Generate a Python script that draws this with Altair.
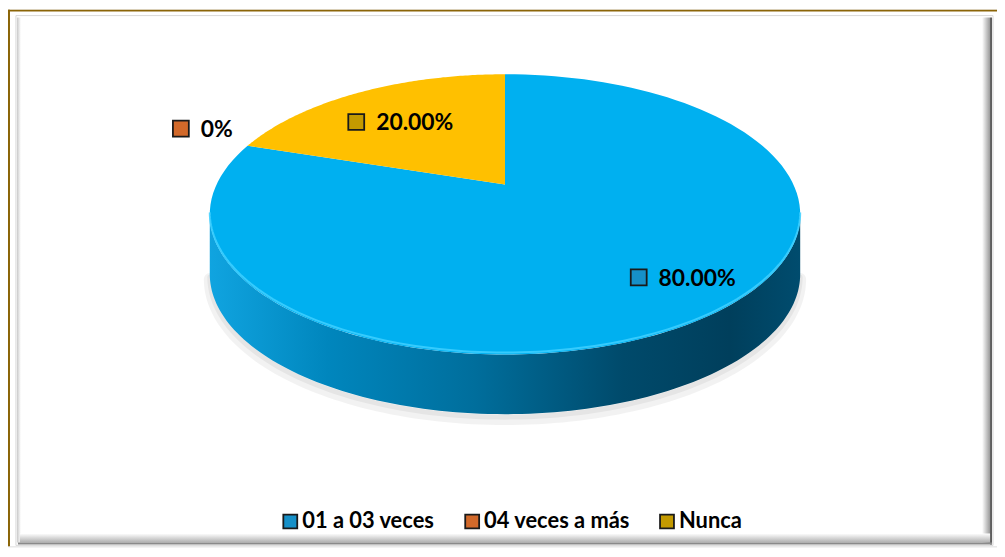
import math
import altair as alt
import pandas as pd

# ---------------- data ----------------
CATEGORIES = ["01 a 03 veces", "04 veces a más", "Nunca"]
VALUES = [80.0, 0.0, 20.0]
COLORS = ["#00B0F0", "#ED7D31", "#FFC000"]          # slice faces
KEY_COLORS = ["#1690C8", "#D2692A", "#C49A00"]      # legend keys / label keys

# ---------------- layout / style ----------------
W, H = 995, 540          # plot area (px)
X0, Y0 = 8, 8            # page offset of the plot area
CX, CY = 508, 184        # pie apex (page px)
A, B, K = 290.2, 134.6, 0.2128   # perspective ellipse parameters
DEPTH = 60
N = 120
LABEL_RX = [0.906, 1.109, 0.760]
LABEL_RY = [0.936, 1.148, 0.500]
FONT = "Lato"

df = pd.DataFrame({"cat": CATEGORIES, "val": VALUES, "idx": list(range(len(CATEGORIES)))})

xs = alt.Scale(domain=[X0, X0 + W], nice=False, zero=False)
ys = alt.Scale(domain=[Y0, Y0 + H], nice=False, zero=False, reverse=True)

LEGEND = alt.Legend(
    title=None,
    orient="none",
    legendX=273,
    legendY=504,
    direction="horizontal",
    symbolType="square",
    symbolSize=196,
    symbolStrokeColor="#1a1a1a",
    symbolStrokeWidth=1.8,
    symbolOpacity=1,
    labelFont=FONT,
    labelFontWeight="bold",
    labelFontSize=22,
    labelColor="#000000",
    labelOffset=1,
    columnPadding=26,
    labelLimit=400,
)
KEY = alt.Color("cat:N", scale=alt.Scale(domain=CATEGORIES, range=KEY_COLORS), sort=CATEGORIES, legend=LEGEND)


def px(phi):
    return f"{CX} + {A}*sin({phi})/(1 + {K}*cos({phi}))"


def py(phi):
    return f"{CY} - {B}*cos({phi})/(1 + {K}*cos({phi}))"


X = alt.X("x:Q", scale=xs, axis=None)
Y = alt.Y("y:Q", scale=ys, axis=None)

base = (
    alt.Chart(df)
    .transform_joinaggregate(total="sum(val)")
    .transform_window(cum="sum(val)", sort=[alt.SortField("idx")], frame=[None, 0])
    .transform_calculate(a0="2*PI*(datum.cum - datum.val)/datum.total")
    .transform_calculate(a1="2*PI*datum.cum/datum.total")
)

# ---- top face slices ----
top = (
    base.transform_calculate(facecolor=f"{COLORS}[datum.idx]")
    .transform_calculate(steps=f"sequence(0, {N + 2})")
    .transform_flatten(["steps"], as_=["s"])
    .transform_calculate(phi=f"datum.a0 + (datum.s - 1)*(datum.a1 - datum.a0)/{N}")
    .transform_calculate(x=f"datum.s == 0 ? {CX} : {px('datum.phi')}")
    .transform_calculate(y=f"datum.s == 0 ? {CY} : {py('datum.phi')}")
    .mark_line(filled=True)
    .encode(x=X, y=Y, order="s:Q", fill=alt.Fill("facecolor:N", scale=None), detail="cat:N")
)

# ---- visible side wall ----
LO = math.acos(-K)
HI = 2 * math.pi - LO
side_base = (
    base.transform_calculate(slo=f"max(datum.a0, {LO})")
    .transform_calculate(shi=f"min(datum.a1, {HI})")
    .transform_filter("datum.slo < datum.shi")
    .transform_calculate(steps=f"sequence(0, {2 * N + 2})")
    .transform_flatten(["steps"], as_=["s"])
    .transform_calculate(
        phi=f"datum.s <= {N} ? datum.slo + datum.s*(datum.shi - datum.slo)/{N} : datum.shi - (datum.s - {N + 1})*(datum.shi - datum.slo)/{N}"
    )
    .transform_calculate(off=f"datum.s <= {N} ? 0 : {DEPTH}")
    .transform_calculate(x=px("datum.phi"))
    .transform_calculate(y=f"{py('datum.phi')} + datum.off")
)

side_grad = alt.LinearGradient(
    gradient="linear",
    stops=[
        alt.GradientStop(color="#10A4E0", offset=0.0),
        alt.GradientStop(color="#0086BD", offset=0.2),
        alt.GradientStop(color="#006E9C", offset=0.45),
        alt.GradientStop(color="#004A6B", offset=0.7),
        alt.GradientStop(color="#003F5C", offset=0.88),
        alt.GradientStop(color="#004C6E", offset=1.0),
    ],
    x1=0, x2=1, y1=0, y2=0,
)

shadow = (
    side_base.transform_filter(f"datum.s > {N}")
    .transform_calculate(ys="datum.y + 5")
    .mark_line(stroke="#000000", strokeWidth=12, opacity=0.05, strokeCap="round")
    .encode(x=X, y=alt.Y("ys:Q", scale=ys, axis=None), order="s:Q", detail="cat:N")
)
shadow2 = (
    side_base.transform_filter(f"datum.s > {N}")
    .transform_calculate(ys="datum.y + 3")
    .mark_line(stroke="#000000", strokeWidth=5, opacity=0.05, strokeCap="round")
    .encode(x=X, y=alt.Y("ys:Q", scale=ys, axis=None), order="s:Q", detail="cat:N")
)

side = side_base.mark_line(filled=True, fill=side_grad, strokeWidth=0).encode(
    x=X, y=Y, order="s:Q", detail="cat:N"
)

rim = (
    side_base.transform_filter(f"datum.s <= {N}")
    .transform_calculate(yr="datum.y - 2")
    .mark_line(stroke="#3FD0FF", strokeWidth=2, opacity=0.85)
    .encode(x=X, y=alt.Y("yr:Q", scale=ys, axis=None), order="s:Q", detail="cat:N")
)

# ---- labels ----
lab = (
    base.transform_calculate(mid="(datum.a0 + datum.a1)/2")
    .transform_calculate(rx=f"{LABEL_RX}[datum.idx]")
    .transform_calculate(ry=f"{LABEL_RY}[datum.idx]")
    .transform_calculate(x=f"{CX} + {A}*sin(datum.mid)*datum.rx")
    .transform_calculate(y=f"{CY} - {B}*cos(datum.mid)*datum.ry")
    .transform_calculate(mx="datum.x - 20")
    .transform_calculate(my="datum.y - 8.5")
    .transform_calculate(txt="datum.val == 0 ? '0%' : format(datum.val, '.2f') + '%'")
)

texts = lab.mark_text(
    align="left", baseline="alphabetic", font=FONT, fontWeight="bold", fontSize=23, color="#000000"
).encode(x=X, y=Y, text="txt:N")

markers = lab.mark_square(size=256, stroke="#1a1a1a", strokeWidth=1.8, opacity=1, filled=True).encode(
    x=alt.X("mx:Q", scale=xs, axis=None),
    y=alt.Y("my:Q", scale=ys, axis=None),
    color=KEY,
)

# ---- frame decorations ----
one = alt.Chart(pd.DataFrame({"k": [0]}))
inner_box = one.mark_rect(fill="#ffffff", stroke="#d9d9d9", strokeWidth=1).encode(
    x=alt.value(8), x2=alt.value(991), y=alt.value(6), y2=alt.value(539)
)
right_shadow = one.mark_rect(
    fill=alt.LinearGradient(
        gradient="linear",
        stops=[alt.GradientStop(color="#ffffff", offset=0), alt.GradientStop(color="#9a9a9a", offset=1)],
        x1=0, x2=1, y1=0, y2=0,
    )
).encode(x=alt.value(980), x2=alt.value(988), y=alt.value(8), y2=alt.value(537))
right_dark = one.mark_rect(fill="#5e5e5e").encode(
    x=alt.value(988), x2=alt.value(990), y=alt.value(8), y2=alt.value(538)
)
bottom_shadow = one.mark_rect(
    fill=alt.LinearGradient(
        gradient="linear",
        stops=[alt.GradientStop(color="#ffffff", offset=0), alt.GradientStop(color="#b0b0b0", offset=1)],
        x1=0, x2=0, y1=0, y2=1,
    )
).encode(x=alt.value(12), x2=alt.value(988), y=alt.value(527), y2=alt.value(536))
bottom_dark = one.mark_rect(fill="#8a8a8a").encode(
    x=alt.value(10), x2=alt.value(990), y=alt.value(536), y2=alt.value(538)
)
left_shadow = one.mark_rect(
    fill=alt.LinearGradient(
        gradient="linear",
        stops=[alt.GradientStop(color="#c8c8c8", offset=0), alt.GradientStop(color="#ffffff", offset=1)],
        x1=0, x2=1, y1=0, y2=0,
    )
).encode(x=alt.value(9), x2=alt.value(13), y=alt.value(8), y2=alt.value(536))
brown_top = one.mark_rect(fill="#8B6508").encode(
    x=alt.value(0), x2=alt.value(W), y=alt.value(0), y2=alt.value(2)
)
brown_left = one.mark_rect(fill="#8B6508").encode(
    x=alt.value(0), x2=alt.value(2), y=alt.value(0), y2=alt.value(H)
)

chart = (
    alt.layer(
        inner_box, left_shadow, right_shadow, right_dark, bottom_shadow, bottom_dark,
        brown_top, brown_left,
        shadow, shadow2, side, top, rim, markers, texts,
    )
    .properties(width=W, height=H, padding=0, autosize=alt.AutoSizeParams(type="none"))
    .configure_view(stroke=None)
    .configure(background="#ffffff")
)

chart.save("out.html", embed_options={"renderer": "svg", "actions": False})
